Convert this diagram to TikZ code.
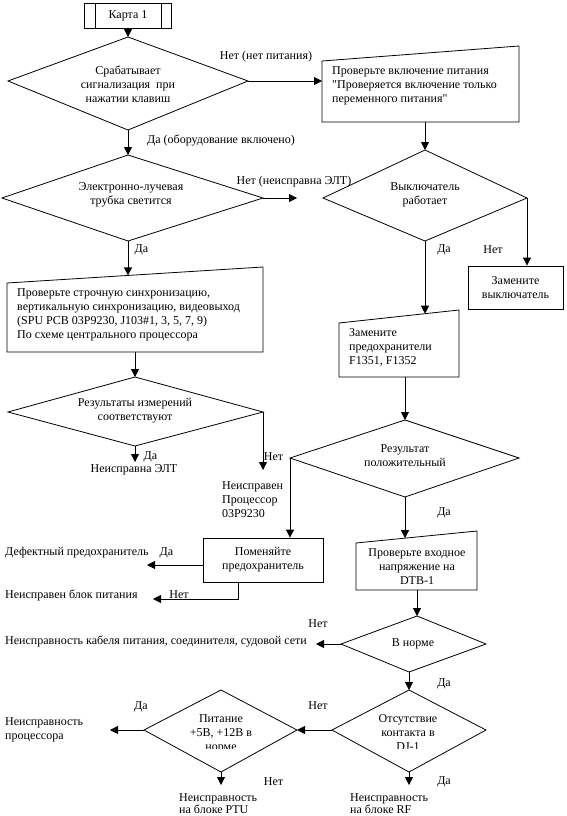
\documentclass[tikz,border=0pt]{standalone}
\usepackage{fontspec}
\setmainfont[Ligatures=TeXOff]{Liberation Serif}
\usetikzlibrary{arrows.meta,calc}
\newcommand\mydia[8]{%
 \coordinate (#1-l) at (#2,#7); \coordinate (#1-r) at (#3,#7);
 \coordinate (#1-t) at (#4,#6); \coordinate (#1-b) at (#5,#8);
 \draw[ln] (#1-t)--(#1-r)--(#1-b)--(#1-l)--cycle;}
\newcommand\mytrap[6]{%
 \coordinate (#1-tl) at (#2,#4); \coordinate (#1-tr) at (#3,#5);
 \coordinate (#1-br) at (#3,#6); \coordinate (#1-bl) at (#2,#6);
 \draw[ln] (#1-tl)--(#1-tr)--(#1-br)--(#1-bl)--cycle;}
\begin{document}
\begin{tikzpicture}[x=1pt,y=-1pt,
  ln/.style={line width=0.8pt},
  arr/.style={ln,-{Triangle[length=8pt,width=8pt]}},
  txt/.style={font=\fontsize{12}{14}\selectfont,inner sep=0pt,align=center},
  ltxt/.style={txt,align=left,anchor=west},
  boxn/.style={txt,draw,ln},
  lbl/.style={font=\fontsize{12}{14}\selectfont,inner sep=0pt}]
\useasboundingbox (0,0) rectangle (566,816);

% shapes
\node[boxn,minimum width=87pt,minimum height=25pt] (karta) at (128,15.5) {Карта 1};
\draw[ln] ([xshift=11pt]karta.north west) -- ([xshift=11pt]karta.south west);
\draw[ln] ([xshift=-11pt]karta.north east) -- ([xshift=-11pt]karta.south east);

\mydia{d1}{8}{248}{128}{128}{37}{81}{130}
\mydia{d2}{2}{263}{128}{128}{155}{198}{241}
\mydia{d3}{323}{527}{425}{425}{150}{198}{241}
\mydia{d4}{8}{263}{135}{135}{377}{412}{446}
\mydia{d5}{290}{519}{405}{405}{420}{458}{497}
\mydia{d6}{341}{486}{417}{409}{616}{644}{672}
\mydia{d7}{332}{486}{409}{409}{690}{730}{772}
\mydia{d8}{144}{297}{221}{221}{690}{730}{772}

\mytrap{b2}{322}{519}{61}{46}{122}
\mytrap{b3}{7}{263}{283}{267}{352}
\mytrap{b4}{339}{459}{323}{310}{377}
\mytrap{b6}{356}{477}{543}{531}{590}

\node[boxn,minimum width=95pt,minimum height=43pt] (bsw) at (515.5,287.5) {Замените\\выключатель};
\node[boxn,minimum width=120pt,minimum height=44pt] (bfuse) at (263,560) {Поменяйте\\предохранитель};

% texts in shapes
\node[txt] (t1) at (128,84.5) {Срабатывает\\сигнализация\ \ при\\нажатии клавиш};
\node[txt] (t2) at (131,194.5) {Электронно-лучевая\\трубка светится};
\node[ltxt] (tb2) at (332,85.5) {Проверьте включение питания\\"Проверяется включение только\\переменного питания"};
\node[txt] (t3) at (425,194.5) {Выключатель\\работает};
\node[ltxt] (tb3) at (17,315) {Проверьте строчную синхронизацию,\\вертикальную синхронизацию, видеовыход\\(SPU PCB 03P9230, J103\#1, 3, 5, 7, 9)\\По схеме центрального процессора};
\node[txt] (t4) at (135,411) {Результаты измерений\\соответствуют};
\node[ltxt] (tb4) at (349,347.5) {Замените\\предохранители\\F1351, F1352};
\node[txt] (t5) at (405,455.5) {Результат\\положительный};
\node[txt] (tb6) at (417,566.5) {Проверьте входное\\напряжение на\\DTB-1};
\node[txt] (t6) at (413,644) {В норме};
\begin{scope}
\clip (300,700) rectangle (520,748);
\node[txt] (t7) at (408,733) {Отсутствие\\контакта в\\DJ-1};
\end{scope}
\begin{scope}
\clip (140,700) rectangle (300,748);
\node[txt] (t8) at (221,733.5) {Питание\\+5В, +12В в\\норме};
\end{scope}

% free ends
\coordinate (b3in) at (128,275.4);
\coordinate (b4in) at (425,313.7);
\coordinate (b6in) at (405,538.1);
\coordinate (e1) at (297,198);
\coordinate (e2) at (263,470);
\coordinate (e3) at (135,462);
\coordinate (e4) at (147,565);
\coordinate (e5) at (153,599);
\coordinate (e6) at (316,644);
\coordinate (e7) at (110,730);
\coordinate (e8) at (221,785);
\coordinate (e9) at (409,785);

% connectors
\draw[arr] (karta.south) -- (d1-t);
\draw[arr] (d1-r) -- (d1-r -| b2-bl);
\draw[arr] (d3-t |- b2-bl) -- (d3-t);
\draw[arr] (d1-b) -- (d2-t);
\draw[arr] (d2-r) -- (e1);
\draw[arr] (d3-r) -- (d3-r |- bsw.north);
\draw[arr] (d3-b) -- (b4in);
\draw[arr] (d2-b) -- (b3in);
\draw[arr] (d4-t |- b3-bl) -- (d4-t);
\draw[arr] (d4-r) -- (e2);
\draw[arr] (d4-b) -- (e3);
\draw[arr] (d5-t |- b4-bl) -- (d5-t);
\draw[arr] (d5-l) -- (d5-l |- bfuse.north);
\draw[arr] (d5-b) -- (b6in);
\draw[arr] (bfuse.west |- e4) -- (e4);
\draw[arr] ([xshift=-25pt]bfuse.south) |- (e5);
\draw[arr] (d6-t |- b6-bl) -- (d6-t);
\draw[arr] (d6-l) -- (e6);
\draw[arr] (d6-b) -- (d7-t);
\draw[arr] (d7-l) -- (d8-r);
\draw[arr] (d8-l) -- (e7);
\draw[arr] (d8-b) -- (e8);
\draw[arr] (d7-b) -- (e9);

% labels
\node[lbl] (l1) at (266,57) {Нет (нет питания)};
\node[lbl] (l2) at (221,140) {Да (оборудование включено)};
\node[lbl] (l3) at (294,182) {Нет (неисправна ЭЛТ)};
\node[lbl] (l4) at (141.5,250) {Да};
\node[lbl] (l5) at (444,250) {Да};
\node[lbl] (l6) at (493,250) {Нет};
\node[lbl] (l7) at (150.5,457) {Да};
\node[lbl] (l8) at (134,470) {Неисправна ЭЛТ};
\node[lbl] (l9) at (273.5,457) {Нет};
\node[ltxt] (l10) at (222,500) {Неисправен\\Процессор\\03P9230};
\node[lbl] (l11) at (444,513) {Да};
\node[lbl,anchor=west] (l12) at (5,553) {Дефектный предохранитель};
\node[lbl] (l13) at (166.5,553) {Да};
\node[lbl,anchor=west] (l14) at (5,595) {Неисправен блок питания};
\node[lbl] (l15) at (179,595) {Нет};
\node[lbl] (l16) at (318,624) {Нет};
\node[lbl,anchor=west] (l17) at (5,641) {Неисправность кабеля питания, соединителя, судовой сети};
\node[lbl] (l18) at (444,684) {Да};
\node[lbl] (l19) at (318,706) {Нет};
\node[lbl] (l20) at (141,707) {Да};
\node[ltxt] (l21) at (5,730) {Неисправность\\процессора};
\node[lbl] (l22) at (273.5,782) {Нет};
\node[lbl] (l23) at (444,782) {Да};
\node[ltxt,font=\fontsize{12}{11.5}\selectfont] (l24) at (179,803.7) {Неисправность\\на блоке PTU};
\node[ltxt,font=\fontsize{12}{11.5}\selectfont] (l25) at (350,803.7) {Неисправность\\на блоке RF};
\end{tikzpicture}
\end{document}
